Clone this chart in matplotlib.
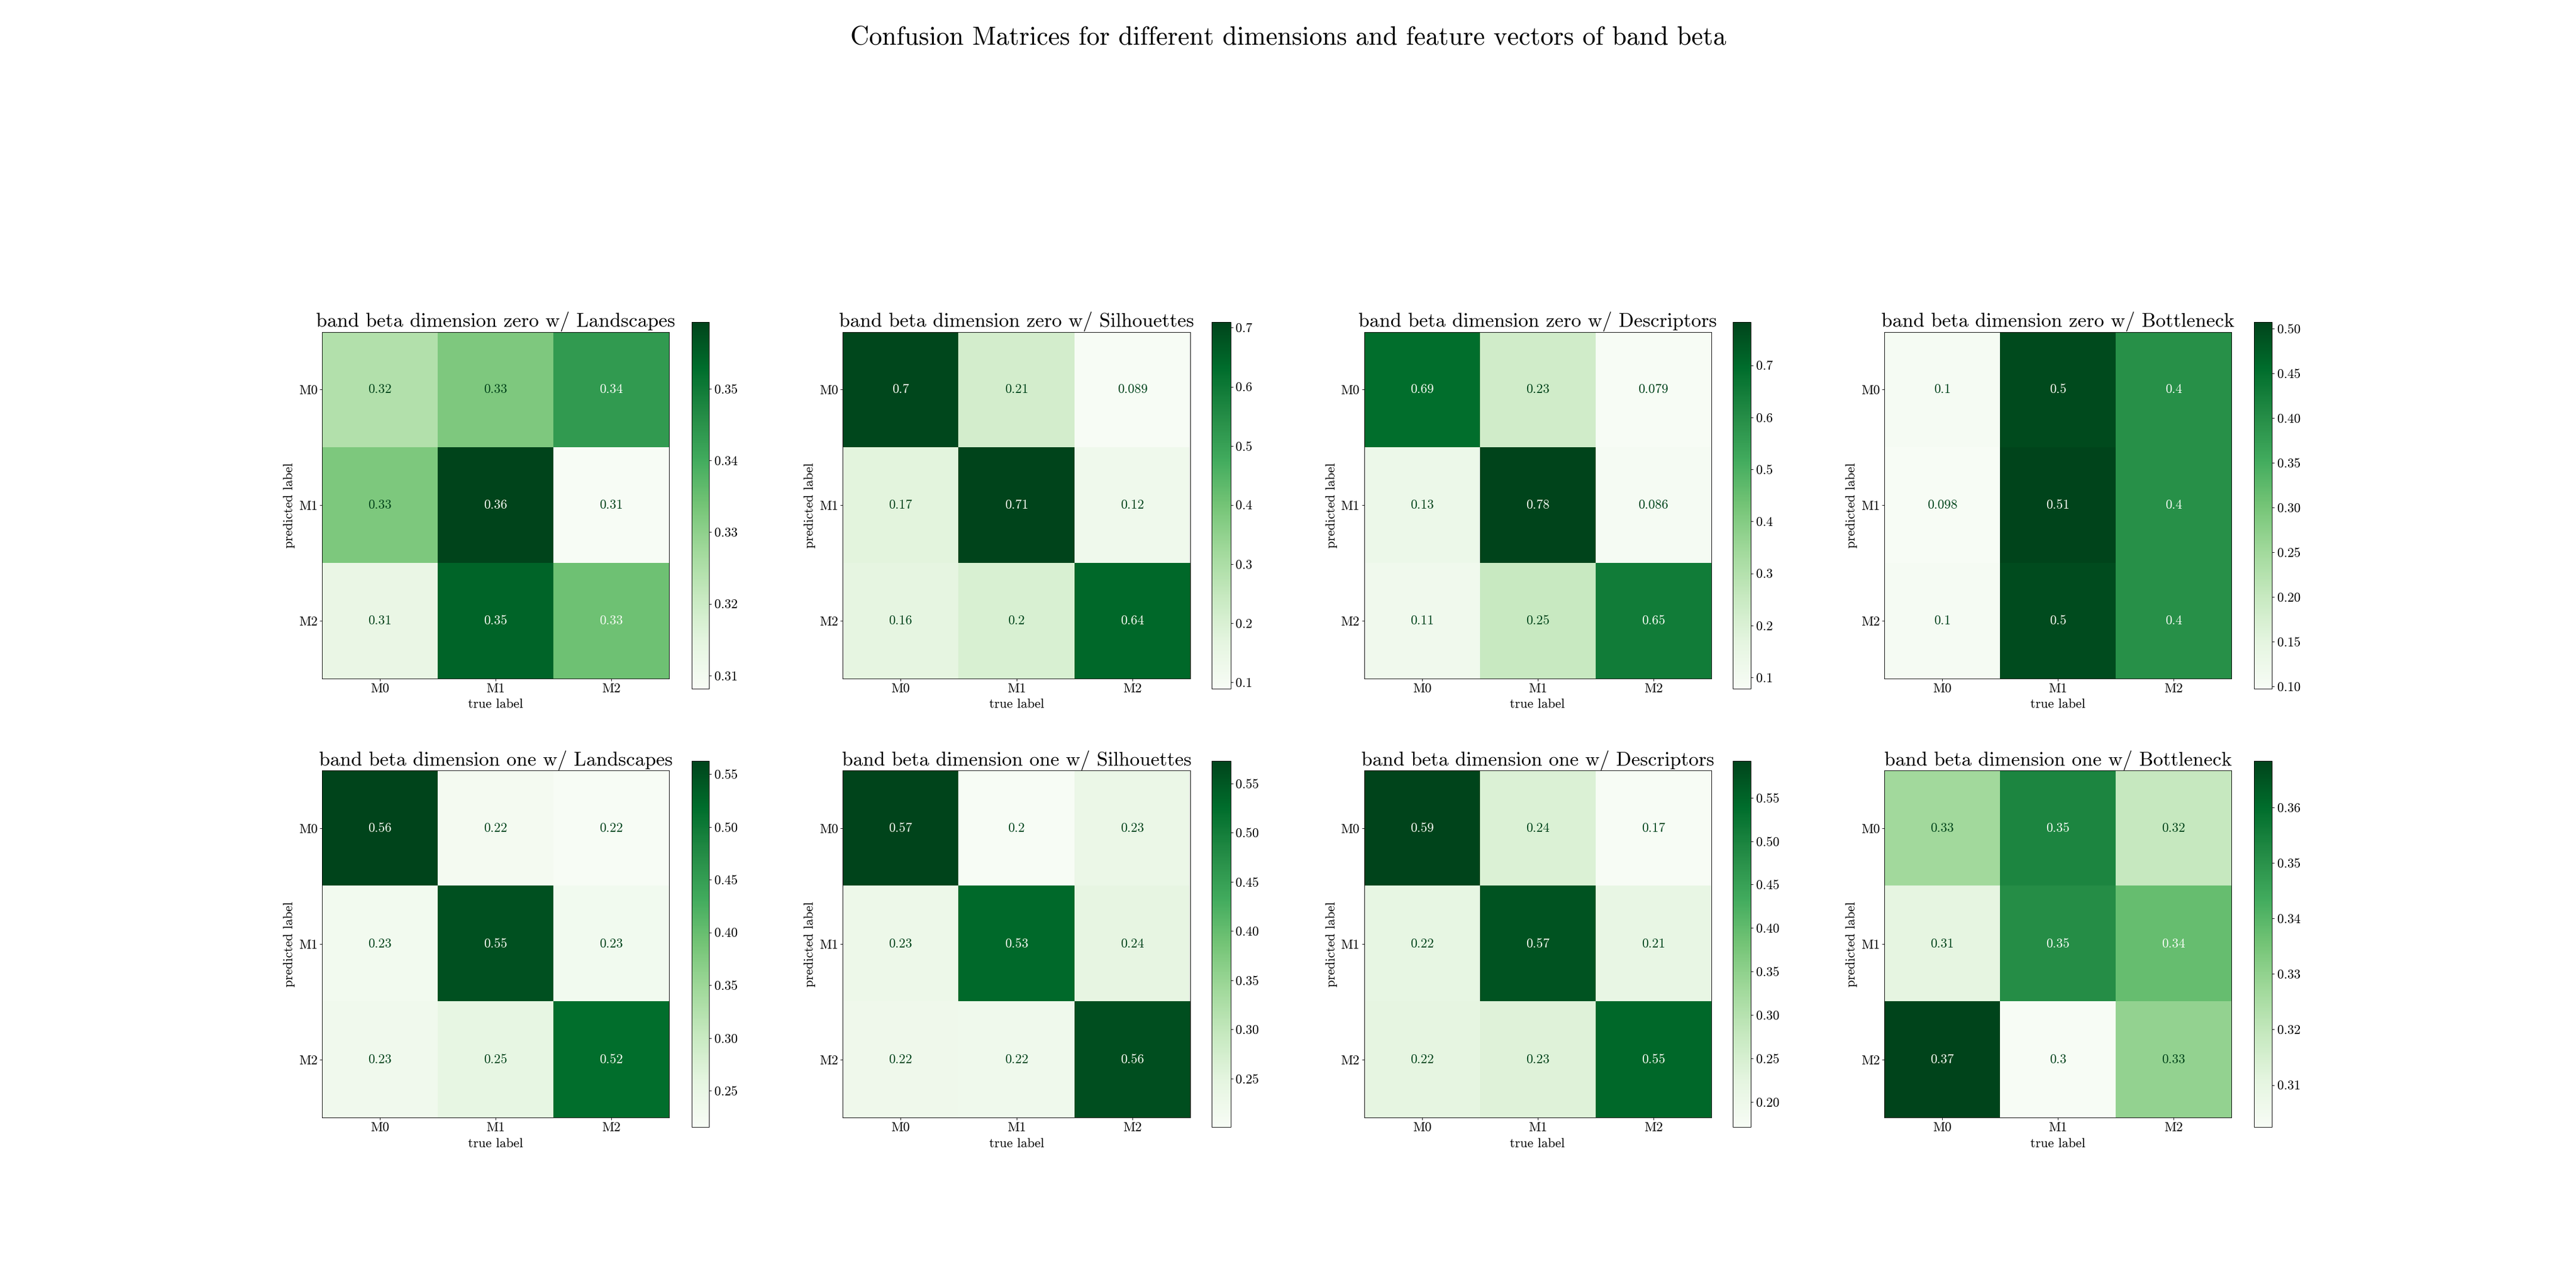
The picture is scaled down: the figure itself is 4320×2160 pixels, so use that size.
import numpy as np
import matplotlib

matplotlib.use("Agg")
import matplotlib.pyplot as plt

plt.rcParams["font.family"] = ["cmr10", "DejaVu Serif"]
plt.rcParams["axes.formatter.use_mathtext"] = True

CLASSES = ["M0", "M1", "M2"]
DIMENSIONS = ["zero", "one"]
FEATURES = ["Landscapes", "Silhouettes", "Descriptors", "Bottleneck"]

zero_landscapes = [[0.3245, 0.3322, 0.3434], [0.3325, 0.3593, 0.3082], [0.3128, 0.3542, 0.3344]]
zero_silhouettes = [[0.702, 0.213, 0.0894], [0.172, 0.7095, 0.123], [0.162, 0.199, 0.641]]
zero_descriptors = [[0.69, 0.23, 0.0789], [0.13, 0.7833, 0.086], [0.11, 0.25, 0.65]]
zero_bottleneck = [[0.102, 0.499, 0.397], [0.098, 0.5076, 0.397], [0.1035, 0.498, 0.397]]
one_landscapes = [[0.5623, 0.2225, 0.2156], [0.227, 0.548, 0.228], [0.232, 0.2535, 0.517]]
one_silhouettes = [[0.5726, 0.2005, 0.23], [0.2265, 0.53, 0.2414], [0.221, 0.22, 0.56]]
one_descriptors = [[0.592, 0.2407, 0.1712], [0.217, 0.571, 0.213], [0.219, 0.234, 0.5458]]
one_bottleneck = [[0.3268, 0.3533, 0.3189], [0.3103, 0.3513, 0.3377], [0.3684, 0.3024, 0.3295]]

MATRICES = [
    [zero_landscapes, zero_silhouettes, zero_descriptors, zero_bottleneck],
    [one_landscapes, one_silhouettes, one_descriptors, one_bottleneck],
]

# ── Layout in output pixels ──────────────────────────────
W, H = 4320, 2160
AX_X = [(540.4, 1122.3), (1413.2, 1996.2), (2287.6, 2869.5), (3160.2, 3742.3)]
CB_X = [(1159.6, 1189.2), (2032.4, 2063.7), (2905.7, 2936.4), (3779.6, 3810.3)]
AX_Y = [(556.5, 1138.0), (1291.8, 1874.2)]
CB_Y = [(540.0, 1154.5), (1276.3, 1890.2)]


def box(xr, yr):
    return [xr[0] / W, 1 - yr[1] / H, (xr[1] - xr[0]) / W, (yr[1] - yr[0]) / H]


def draw_matrix(fig, cm, title, ax_box, cb_box):
    cm = np.array(cm)
    ax = fig.add_axes(ax_box)
    im = ax.imshow(cm, cmap="Greens", aspect="auto", interpolation="nearest")
    thresh = (cm.max() + cm.min()) / 2
    for i in range(cm.shape[0]):
        for j in range(cm.shape[1]):
            color = im.cmap(1.0) if cm[i, j] < thresh else im.cmap(0.0)
            ax.text(j, i, format(cm[i, j], ".2g"), ha="center", va="center", color=color, fontsize=20)
    ax.set_xticks(range(3), CLASSES, fontsize=20)
    ax.set_yticks(range(3), CLASSES, fontsize=20)
    ax.set_xlabel("true label", fontsize=20, labelpad=6)
    ax.set_ylabel("predicted label", fontsize=20, labelpad=5)
    ax.set_title(title, fontsize=30, pad=6)
    cax = fig.add_axes(cb_box)
    cbar = fig.colorbar(im, cax=cax)
    cbar.ax.tick_params(labelsize=20)


fig = plt.figure(figsize=(W / 80, H / 80), dpi=80)
for r, dim in enumerate(DIMENSIONS):
    for c, feat in enumerate(FEATURES):
        title = f"band beta dimension {dim} w/ {feat}"
        draw_matrix(fig, MATRICES[r][c], title, box(AX_X[c], AX_Y[r]), box(CB_X[c], CB_Y[r]))

fig.suptitle(
    "Confusion Matrices for different dimensions and feature vectors of band beta",
    x=0.5, y=1 - 63 / H, va="center", fontsize=39.2,
)
fig.savefig("out.png", dpi=80)
